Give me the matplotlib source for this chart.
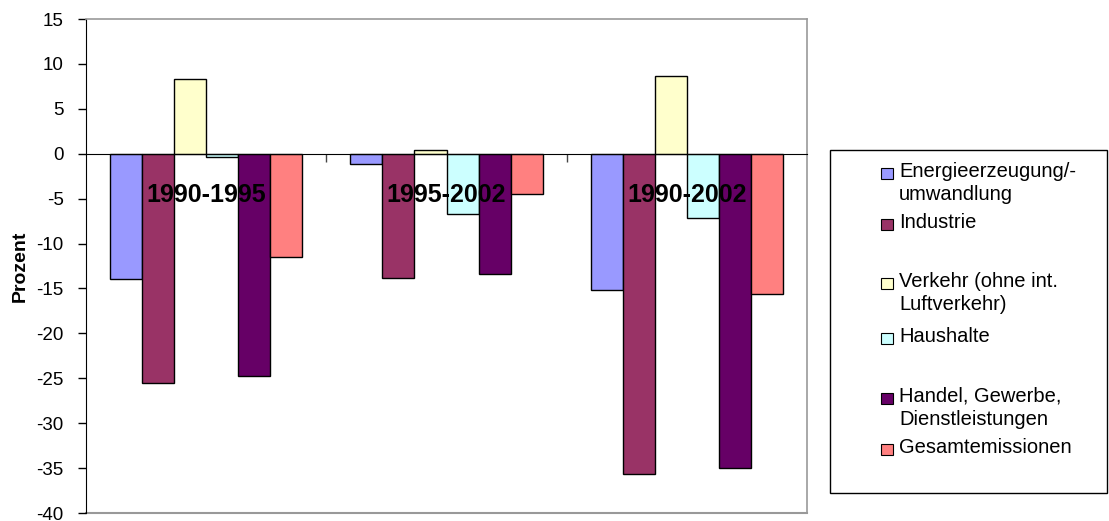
import matplotlib
matplotlib.use("Agg")
import matplotlib.pyplot as plt
from matplotlib.patches import Rectangle
import numpy as np

plt.rcParams['font.family'] = ['Liberation Sans', 'DejaVu Sans']

# Emission changes by sector, in percent
periods = ['1990-1995', '1995-2002', '1990-2002']
energie = [-13.9, -1.1, -15.2]
industrie = [-25.5, -13.8, -35.7]
verkehr = [8.3, 0.4, 8.6]
haushalte = [-0.4, -6.7, -7.2]
handel = [-24.8, -13.4, -35.0]
gesamt = [-11.5, -4.5, -15.6]

series_labels = ['Energieerzeugung/-\numwandlung', 'Industrie',
                 'Verkehr (ohne int.\nLuftverkehr)', 'Haushalte',
                 'Handel, Gewerbe,\nDienstleistungen', 'Gesamtemissionen']
series_values = [energie, industrie, verkehr, haushalte, handel, gesamt]
colors = ['#9999FF', '#993366', '#FFFFCC', '#CCFFFF', '#660066', '#FF8080']

y_ticks = list(range(-40, 20, 5))

W, H = 1109, 521
fig = plt.figure(figsize=(W / 100, H / 100), dpi=100)


def fx(px):
    return px / W


def fy(py):
    return 1 - py / H


ax = fig.add_axes([fx(86), fy(513), fx(807) - fx(86), fy(19) - fy(513)])

x = np.arange(len(periods))
bw = 0.1333
for i, (vals, c) in enumerate(zip(series_values, colors)):
    ax.bar(x + (i - 2.5) * bw, vals, width=bw, color=c,
           edgecolor='black', linewidth=1.0, zorder=3)

ax.set_xlim(-0.5, len(periods) - 0.5)
ax.set_ylim(-40, 15)
ax.set_yticks(y_ticks)
ax.set_yticklabels([str(t) for t in y_ticks], fontsize=13.5)
ax.tick_params(axis='y', direction='out', length=6, width=1, pad=10,
               color='black')

# category axis crossing at zero
ax.spines['bottom'].set_position(('data', 0))
ax.spines['bottom'].set_color('black')
ax.spines['bottom'].set_zorder(4)
ax.set_xticks([0.5, 1.5])
ax.set_xticklabels([])
ax.tick_params(axis='x', direction='out', length=6, width=1, color='#444444')

for s in ['top', 'right']:
    ax.spines[s].set_color('#999999')
    ax.spines[s].set_linewidth(1.2)
ax.spines['left'].set_color('black')
ax.axhline(-40, color='#999999', linewidth=1.5, clip_on=False, zorder=1)

# period labels inside the plot
for xi, name in zip(x, periods):
    ax.text(xi, -5.35, name, ha='center', va='baseline', fontsize=18,
            fontweight='bold', color='black', zorder=5)

fig.text(fx(20), fy(266), 'Prozent', rotation=90, ha='center', va='center',
         fontsize=14, fontweight='bold')

# legend box
fig.patches.append(Rectangle((fx(830), fy(493)), fx(1107) - fx(830),
                             fy(150) - fy(493), transform=fig.transFigure,
                             facecolor='white', edgecolor='black',
                             linewidth=1.0))
baselines = [176.7, 228.3, 286.7, 341.7, 401.7, 453.3]
line_gap = 23.3
for lab, c, b in zip(series_labels, colors, baselines):
    fig.patches.append(Rectangle((fx(881), fy(b + 2)), fx(12), fy(0) - fy(11),
                                 transform=fig.transFigure, facecolor=c,
                                 edgecolor='black', linewidth=0.8))
    for k, line in enumerate(lab.split('\n')):
        fig.text(fx(899), fy(b + k * line_gap), line, ha='left',
                 va='baseline', fontsize=14.5)

fig.savefig('out.png', dpi=100)
